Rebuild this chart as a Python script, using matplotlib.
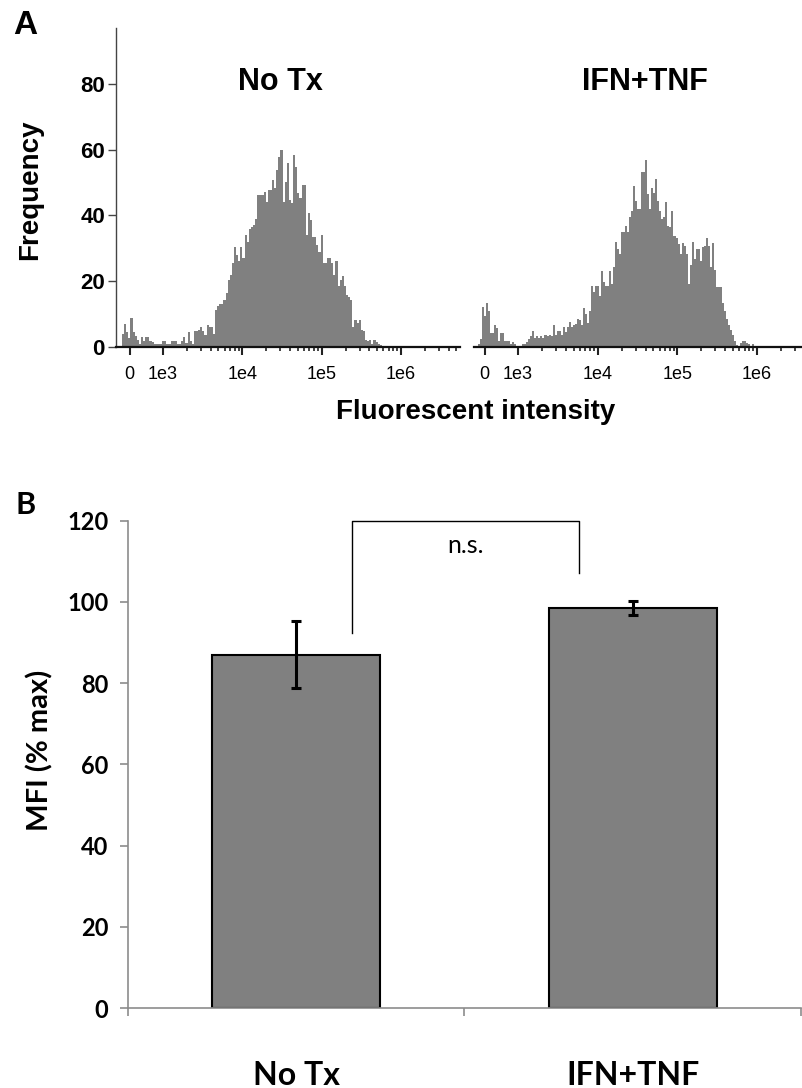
import matplotlib.pyplot as plt
import numpy as np
from matplotlib.ticker import FixedLocator, NullFormatter

# panel A: flow cytometry histograms (counts per bin, bins equally spaced on the display scale)
notx_counts = [4.0, 6.9, 4.5, 2.8, 8.9, 4.7, 3.3, 2.0, 1.0, 3.0, 1.8, 3.0, 3.0, 1.8, 1.5, 1.0,
               1.0, 1.0, 1.0, 1.8, 1.8, 1.0, 1.0, 1.8, 1.8, 1.8, 1.0, 1.0, 1.8, 3.0, 1.3, 4.6, 1.8, 1.0,
               4.9, 4.9, 5.1, 6.0, 4.9, 3.8, 6.6, 6.1, 6.0, 4.0, 11.1, 12.5, 13.0, 13.0,
               14.3, 16.3, 20.4, 21.9, 25.4, 30.3, 28.0, 26.3, 30.5, 27.0, 34.0, 32.0, 35.8, 36.4, 37.1, 39.0,
               46.2, 46.2, 46.2, 47.2, 44.2, 47.7, 47.7, 50.8, 48.2, 53.8, 57.9, 59.9, 44.2, 50.2, 56.0,
               44.7, 43.7, 58.4, 54.8, 46.7, 45.2, 49.2, 49.2, 34.0, 40.8,
               38.6, 33.5, 33.3, 31.0, 29.0, 34.0, 25.4, 25.4, 27.0, 27.0, 25.4, 21.9, 26.0, 18.4, 20.4,
               21.5, 18.4, 15.8, 15.3, 14.3,
               6.2, 8.2, 7.4, 8.2, 5.2, 5.0, 2.2, 1.7, 2.2, 1.0, 2.2, 1.4, 1.0, 0.7, 0.3]
ifn_counts = [0.9, 2.3, 12.1, 9.3, 13.4, 11.0, 4.3, 4.3, 6.7, 5.7, 1.9, 4.3, 4.3, 1.9, 1.9, 1.9, 0.9, 1.6, 0.9, 0.2,
              0.2, 0.2, 0.9, 0.9, 1.6, 2.4, 3.2, 5.0, 2.6, 3.2, 2.6, 3.2, 2.6, 3.6, 3.4, 3.6, 3.4, 6.7, 3.6, 5.0,
              5.0, 3.6, 6.0, 4.7, 6.0, 7.5, 6.0, 6.7, 7.0, 8.5, 8.3, 6.7, 11.8, 10.0, 7.3, 11.0, 18.4, 16.6,
              18.4, 18.4, 15.6, 23.2, 19.7,
              18.6, 18.6, 23.2, 19.1, 24.2, 31.8, 29.7, 28.2, 35.0, 35.0, 36.7, 35.0, 39.4, 41.4, 49.0, 44.5,
              41.9, 41.9, 53.3, 53.3, 57.0, 46.5, 41.9, 48.2, 46.8, 51.1, 44.5, 41.4, 38.9, 39.4, 44.0, 36.9,
              36.4, 41.4,
              33.8, 33.1, 31.3, 28.2, 31.6, 30.8, 28.2, 19.1, 24.9, 31.8, 26.7, 29.7, 29.7, 26.2, 30.3, 30.8,
              33.1, 30.8, 24.2, 31.6, 23.5, 18.1, 18.1, 18.1, 13.3, 10.8, 8.5, 6.7, 5.2, 3.5, 1.9, 0.6, 0.2,
              1.2, 1.9, 1.9, 1.2, 0.9, 0.2, 0.9]
notx_range = (-230, 6.1e5)
ifn_range = (-195, 9.2e5)
hist_titles = ["No Tx", "IFN+TNF"]
freq_ticks = [0, 20, 40, 60, 80]
fl_ticks = [0, 1e3, 1e4, 1e5, 1e6]
fl_ticklabels = ["0", "1e3", "1e4", "1e5", "1e6"]

# panel B: MFI bars
groups = ["No Tx", "IFN+TNF"]
mfi = [87.0, 98.6]
mfi_err = [8.3, 1.7]
mfi_ticks = [0, 20, 40, 60, 80, 100, 120]

W, H = 803, 1088
fig = plt.figure(figsize=(W / 100, H / 100), dpi=100)
GRAY = "#808080"
ARIAL = "Liberation Sans"
CALI = "Lato"


def fx(px):
    return px / W


def fy(py):
    return 1 - py / H


def draw_hist(ax, counts, rng, xlim, title, title_x):
    ax.set_xscale("symlog", base=10, linthresh=1e3, linscale=0.378)
    tr = ax.xaxis.get_transform()
    t = tr.transform(np.array(rng, dtype=float))
    edges = tr.inverted().transform(np.linspace(t[0], t[1], len(counts) + 1))
    ax.stairs(counts, edges, fill=True, color=GRAY, lw=0)
    ax.set_xlim(*xlim)
    ax.set_ylim(0, 97)
    ax.xaxis.set_major_locator(FixedLocator(fl_ticks))
    ax.set_xticklabels(fl_ticklabels, fontfamily=ARIAL, fontsize=13)
    minors = [k * 10.0 ** d for d in range(3, 7) for k in range(2, 10)]
    ax.xaxis.set_minor_locator(FixedLocator([m for m in minors if m < xlim[1]]))
    ax.xaxis.set_minor_formatter(NullFormatter())
    ax.tick_params(axis="x", which="major", direction="out", length=6, width=1.5, pad=8, color="#222222")
    ax.tick_params(axis="x", which="minor", direction="out", length=3, width=1.2, color="#222222")
    for s in ["top", "right"]:
        ax.spines[s].set_visible(False)
    ax.spines["bottom"].set_linewidth(1.6)
    ax.spines["bottom"].set_color("#111111")
    ax.text(title_x, 0.83, title, transform=ax.transAxes, ha="center", va="center",
            fontsize=22, fontweight="bold", fontfamily=ARIAL)


ax1 = fig.add_axes([fx(116), fy(347), fx(460 - 116), (347 - 28) / H])
draw_hist(ax1, notx_counts, notx_range, (-411, 5.54e6), hist_titles[0], 0.477)
ax1.set_yticks(freq_ticks)
ax1.set_yticklabels([str(v) for v in freq_ticks], fontfamily=ARIAL, fontsize=16, fontweight="bold")
ax1.tick_params(axis="y", direction="out", length=6, width=1, pad=2, color="#444444")
ax1.spines["left"].set_color("#444444")
ax1.spines["left"].set_linewidth(1.0)

ax2 = fig.add_axes([fx(474), fy(347), fx(803 - 474), (347 - 28) / H])
draw_hist(ax2, ifn_counts, ifn_range, (-314, 3.78e6), hist_titles[1], 0.52)
ax2.spines["left"].set_visible(False)
ax2.set_yticks([])

fig.text(fx(30), fy(190), "Frequency", rotation=90, ha="center", va="center",
         fontsize=20, fontweight="bold", fontfamily=ARIAL)
fig.text(fx(476), fy(412), "Fluorescent intensity", ha="center", va="center",
         fontsize=20, fontweight="bold", fontfamily=ARIAL)
fig.text(fx(25), fy(25), "A", ha="center", va="center", fontsize=24, fontweight="bold", fontfamily=ARIAL)

# panel B
axb = fig.add_axes([fx(128), fy(1008), fx(801 - 128), (1008 - 520.7) / H])
x = np.arange(len(groups))
axb.bar(x, mfi, width=0.5, color=GRAY, edgecolor="black", linewidth=1.5, zorder=2)
axb.errorbar(x, mfi, yerr=mfi_err, fmt="none", ecolor="black", elinewidth=2.2,
             capsize=3.5, capthick=2.2, zorder=3)
axb.set_xlim(-0.5, 1.5)
axb.set_ylim(0, 120)
axb.set_yticks(mfi_ticks)
axb.set_yticklabels([str(v) for v in mfi_ticks], fontfamily=CALI, fontsize=17, fontweight="bold")
axb.set_xticks(x)
axb.set_xticklabels(groups, fontfamily=CALI, fontsize=23, fontweight="bold")
axb.xaxis.set_minor_locator(FixedLocator([-0.5, 0.5, 1.5]))
axb.tick_params(axis="x", which="major", length=0, pad=38)
axb.tick_params(axis="x", which="minor", direction="out", length=6, width=1.2, color="#8c8c8c")
axb.tick_params(axis="y", direction="out", length=6, width=1.2, pad=8, color="#8c8c8c")
for s in ["top", "right"]:
    axb.spines[s].set_visible(False)
for s in ["left", "bottom"]:
    axb.spines[s].set_color("#8c8c8c")
    axb.spines[s].set_linewidth(1.2)

# significance bracket
axb.plot([0.166, 0.166, 0.839, 0.839], [92.3, 120, 120, 107], color="black", lw=1, clip_on=False)
axb.text(0.504, 114, "n.s.", ha="center", va="center", fontsize=18, fontfamily=CALI)

fig.text(fx(40), fy(750), "MFI (% max)", rotation=90, ha="center", va="center",
         fontsize=21, fontweight="bold", fontfamily=CALI)
fig.text(fx(26), fy(505), "B", ha="center", va="center", fontsize=22, fontweight="bold", fontfamily=CALI)

fig.savefig("out.png", dpi=100)
